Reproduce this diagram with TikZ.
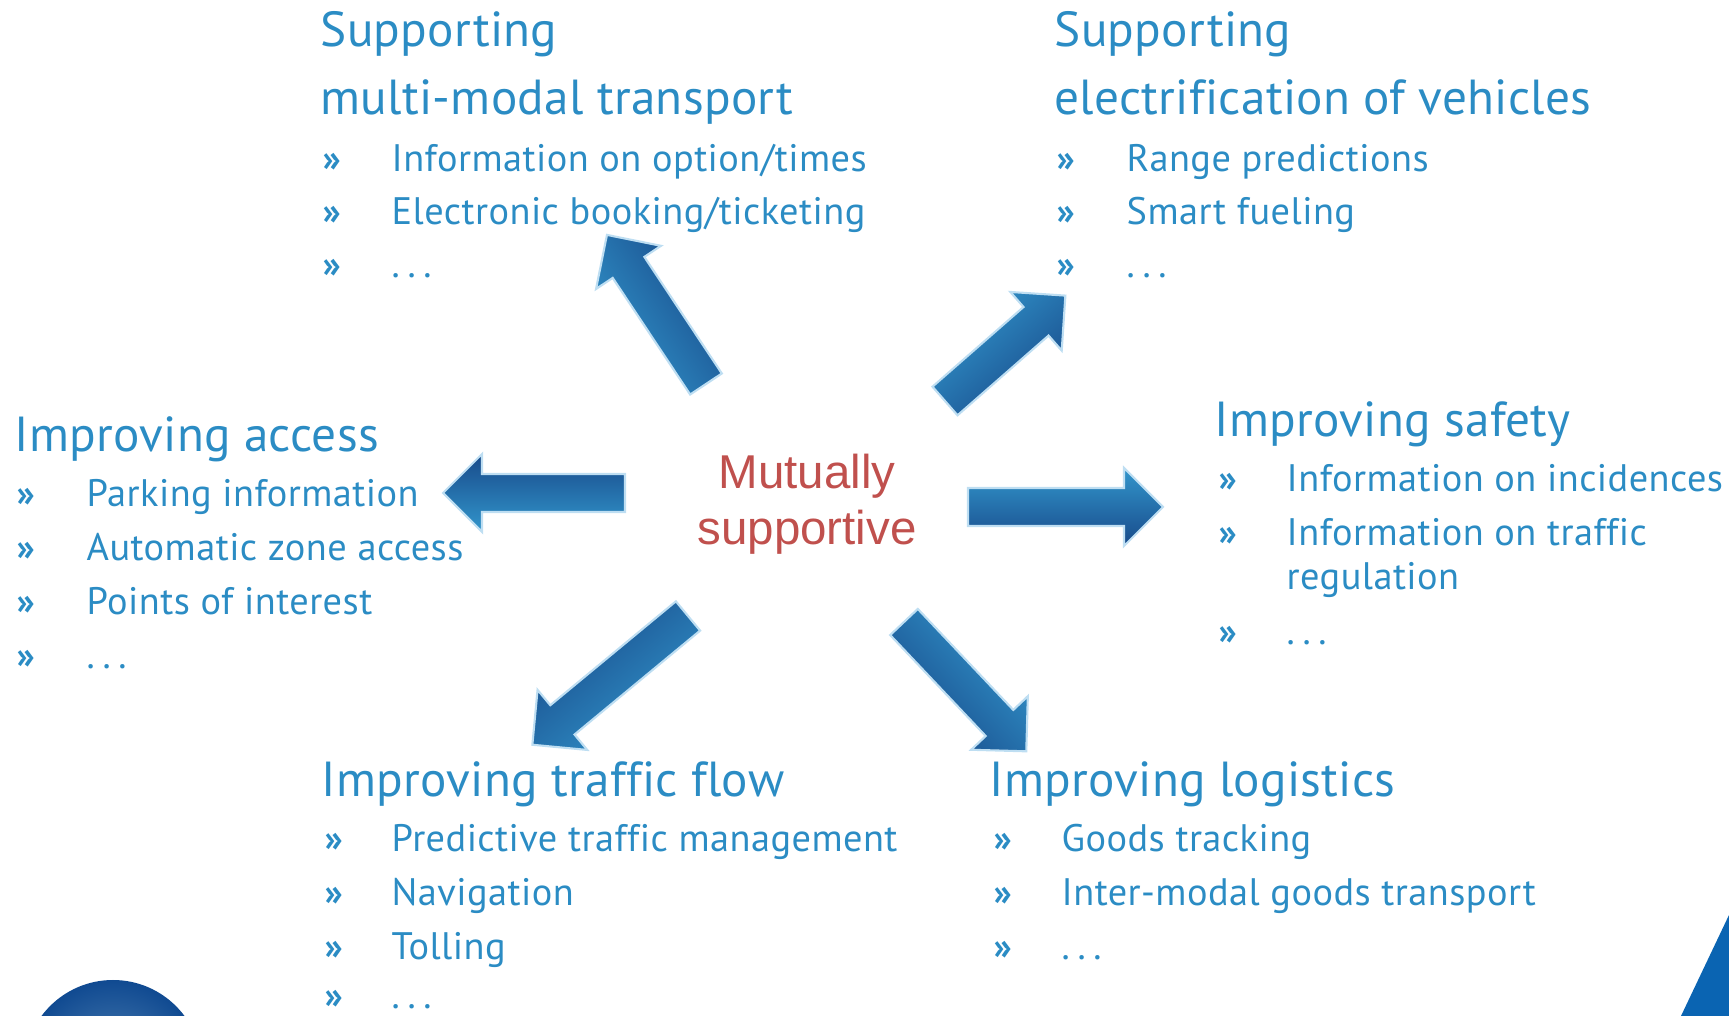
\documentclass[tikz,border=0pt]{standalone}
\usepackage{fontspec}
\setmainfont[Ligatures=NoCommon]{PT Sans}
\newfontfamily\arialfont{Liberation Sans}

\definecolor{txtblue}{RGB}{43,140,196}
\definecolor{arrlight}{RGB}{50,150,204}
\definecolor{arrdark}{RGB}{24,74,138}
\definecolor{arredge}{RGB}{190,222,242}
\definecolor{mutred}{RGB}{192,80,77}
\definecolor{blobdark}{RGB}{16,74,145}
\definecolor{bloblight}{RGB}{80,130,180}
\definecolor{wedgeblue}{RGB}{10,100,178}

\newcommand\spdots{.\kern.2em.\kern.2em.}

\tikzset{
  grouphead/.style={anchor=base west, inner sep=0pt, text=txtblue,
    font=\fontsize{14}{16}\selectfont\addfontfeature{LetterSpace=0.6}},
  listitem/.style={anchor=base west, inner sep=0pt, text=txtblue,
    font=\fontsize{10.9}{12}\selectfont\addfontfeature{LetterSpace=1.2}},
  bul/.style={listitem, font=\fontsize{10.6}{12}\selectfont\bfseries},
  arrowbody/.style={top color=arrlight, bottom color=arrdark, draw=arredge, line width=0.6pt},
}

% block arrow: tail, angle, length
\newcommand\blockarrow[3]{%
  \begin{scope}[shift={(#1)}, rotate=#2]
    \shade[arrowbody, shading angle=#2] (0,-19) -- ({#3-39},-19) -- ({#3-39},-39) -- (#3,0)
      -- ({#3-39},39) -- ({#3-39},19) -- (0,19) -- cycle;
  \end{scope}}

\begin{document}
\begin{tikzpicture}[x=0.01cm, y=-0.01cm]
\useasboundingbox (0,0) rectangle (1729,1016);

% corners of the slide
\shade[inner color=bloblight, outer color=blobdark] (113,1069) circle (89);
\fill[wedgeblue] (1729,915) -- (1681,1016) -- (1729,1016) -- cycle;

% arrow tails
\coordinate (T1) at (706,384);
\coordinate (T2) at (945,401);
\coordinate (T3) at (625,493);
\coordinate (T4) at (968,507);
\coordinate (T5) at (688,616);
\coordinate (T6) at (904,622);
\blockarrow{T1}{123.6}{179}
\blockarrow{T2}{41.2}{160}
\blockarrow{T3}{180}{182}
\blockarrow{T4}{0}{195}
\blockarrow{T5}{-140.4}{202}
\blockarrow{T6}{-46.6}{178}

\node[text=mutred, inner sep=0pt, align=center, font=\arialfont\fontsize{13.5}{15.9}\selectfont] (mutual) at (807,504) {Mutually\\supportive};

% multi-modal
\node[grouphead] (mm1) at (320,47) {Supporting};
\node[grouphead] (mm2) at (320,115) {multi-modal transport};
\foreach \t [count=\i] in {{Information on option/times}, {Electronic booking/ticketing}, \spdots} {
  \node[bul] (mmb\i) at (322,{119+53*\i}) {»};
  \node[listitem] (mm\i i) at (391,{119+53*\i}) {\t};
}

% electrification
\node[grouphead] (el1) at (1054,47) {Supporting};
\node[grouphead] (el2) at (1054,115) {electrification of vehicles};
\foreach \t [count=\i] in {Range predictions, Smart fueling, \spdots} {
  \node[bul] (elb\i) at (1056,{119+53*\i}) {»};
  \node[listitem] (el\i i) at (1126,{119+53*\i}) {\t};
}

% access
\node[grouphead] (ac) at (14,452) {Improving access};
\foreach \t [count=\i] in {Parking information, Automatic zone access, Points of interest, \spdots} {
  \node[bul] (acb\i) at (16,{453+54*\i}) {»};
  \node[listitem] (ac\i) at (86,{453+54*\i}) {\t};
}

% safety
\node[grouphead] (sf) at (1214,437) {Improving safety};
\node[bul] (sfb1) at (1218,492) {»};
\node[listitem] (sf1) at (1286,492) {Information on incidences};
\node[bul] (sfb2) at (1218,546) {»};
\node[listitem] (sf2) at (1286,546) {Information on traffic};
\node[listitem] (sf2c) at (1286,590) {regulation};
\node[bul] (sfb3) at (1218,645) {»};
\node[listitem] (sf3) at (1286,645) {\spdots};

% traffic flow
\node[grouphead] (tf) at (321,797) {Improving traffic flow};
\foreach \t [count=\i] in {Predictive traffic management, Navigation, Tolling} {
  \node[bul] (tfb\i) at (324,{798+54*\i}) {»};
  \node[listitem] (tf\i) at (391,{798+54*\i}) {\t};
}
\node[bul] (tfb4) at (324,1009) {»};
\node[listitem] (tf4) at (391,1009) {\spdots};

% logistics
\node[grouphead] (lg) at (989,797) {Improving logistics};
\foreach \t [count=\i] in {Goods tracking, Inter-modal goods transport, \spdots} {
  \node[bul] (lgb\i) at (993,{798+54*\i}) {»};
  \node[listitem] (lg\i) at (1061,{798+54*\i}) {\t};
}

\end{tikzpicture}
\end{document}
